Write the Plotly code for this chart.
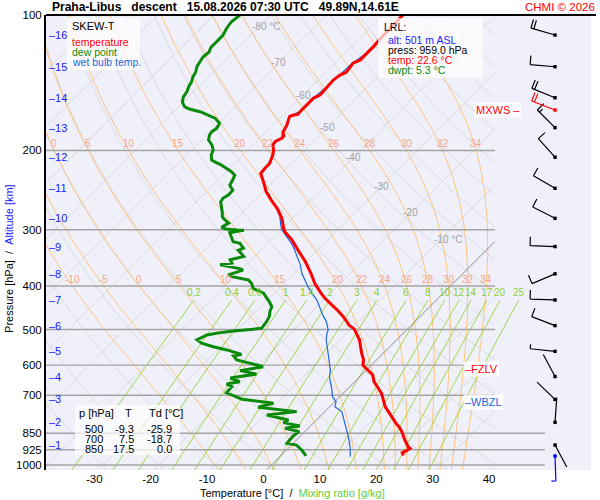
import numpy as np
import plotly.graph_objects as go

# ---------------- sounding values ----------------
temp_p = [952, 939, 929, 918, 911, 880, 850, 829, 808, 781, 761, 742, 717, 693, 670, 653, 631, 615, 600,
          584, 565, 527, 499, 488, 484, 476, 468, 452, 426, 415, 395, 375, 353, 333, 316, 303, 298, 283,
          269, 258, 247, 235, 225, 219, 214, 205, 200, 194.5, 191, 188, 186, 182, 179, 176, 171, 168, 167,
          166, 164, 158.5, 153, 150.6, 145, 139.5, 136, 134, 131, 128, 126, 122, 117, 114, 109, 103.5, 100]
temp_t = [21.7, 21.0, 21.4, 21.6, 21.0, 19.2, 17.6, 16.3, 14.7, 12.8, 11.3, 9.8, 8.3, 6.8, 4.9, 3.4, 2.0, 0.3, -1.5,
          -2.3, -3.8, -6.6, -9.4, -11.2, -11.6, -12.6, -13.6, -15.9, -20.1, -21.7, -24.5, -27.0, -30.1, -33.4, -36.3, -39.0, -39.8, -41.9,
          -44.5, -47.0, -49.4, -51.6, -53.6, -53.8, -53.8, -54.7, -55.4, -56.5, -56.7, -56.1, -56.1, -57.0, -57.3, -57.5, -58.2, -58.6, -58.2,
          -57.5, -57.6, -57.6, -57.6, -57.0, -57.2, -57.3, -57.0, -56.4, -56.6, -56.8, -56.1, -56.1, -56.1, -56.3, -56.4, -56.4, -56.5]

dewp_p = [954, 926, 903, 895, 862, 843, 829, 819, 805, 794, 774, 761, 744, 729, 714, 691, 670, 661, 653, 641,
          628, 617, 610, 605, 600, 584, 572, 568, 555, 546, 536, 527, 514, 508, 504, 497, 480, 468, 456, 445,
          434, 415, 405, 395, 388, 382, 378, 369, 366, 363, 359, 356, 350, 344, 333, 330, 321.6, 319, 312, 304.6,
          302.5, 300.9, 300.4, 298.9, 296.4, 290, 285.5, 281, 274, 260, 255.5, 251, 245, 239, 233, 227, 223, 219,
          215, 212, 210, 205, 199.5, 194.5, 189.6, 184.8, 181.7, 178.6, 174, 169.6, 167.6, 164, 162, 160, 156,
          152, 148, 144, 141, 137, 134, 130, 127, 124, 121, 118, 114, 111, 107, 103.5, 100]
dewp_t = [4.5, 2.7, 0.9, -1.1, -1.3, -1.0, -4.1, -1.9, -5.4, -5.0, -9.7, -5.0, -12.6, -10.6, -16.9, -20.8, -20.9, -22.3, -20.4, -22.7,
          -18.8, -22.3, -20.4, -18.9, -20.1, -24.8, -26.1, -24.9, -28.3, -31.3, -34.0, -35.4, -34.5, -32.6, -30.5, -26.0, -26.3, -26.7, -27.5, -28.0,
          -29.3, -31.9, -34.6, -35.7, -36.9, -40.2, -41.4, -39.6, -40.5, -42.5, -44.6, -42.8, -43.7, -41.9, -44.0, -43.4, -44.9, -46.4, -47.4, -48.6,
          -47.5, -46.5, -47.8, -49.9, -51.0, -50.5, -51.7, -52.7, -53.6, -55.7, -55.9, -55.5, -55.6, -57.0, -57.4, -57.9, -59.1, -60.6,
          -62.3, -63.8, -64.7, -65.6, -66.2, -67.3, -68.8, -69.5, -69.7, -69.4, -69.8, -71.5, -72.8, -75.3, -77.5, -78.9, -80.2,
          -80.9, -81.2, -81.8, -82.1, -82.8, -83.1, -83.9, -84.2, -84.5, -84.3, -84.8, -84.8, -84.8, -85.4, -85.7, -85.4]

wetb_p = [958, 911, 865, 836, 808, 781, 761, 742, 723, 705, 681, 636, 615, 589, 565, 527, 510, 501, 480, 468,
          452, 430, 415, 402, 388, 375, 359, 344, 333, 322, 308, 300, 293, 281, 271, 262, 249, 247, 235, 225,
          219, 214, 205, 200, 194.5, 188, 182, 176, 168, 164, 153, 145, 136, 128, 122, 114, 103.5, 100]
wetb_t = [12.5, 10.7, 8.6, 7.1, 5.6, 4.2, 3.0, 0.9, 0.2, -1.3, -2.6, -5.4, -6.4, -8.1, -9.7, -12.5, -13.5, -13.9, -15.7, -17.1,
          -18.8, -21.2, -23.3, -25.1, -26.9, -28.6, -30.4, -32.4, -34.0, -35.7, -38.4, -39.9, -40.9, -42.5, -44.2, -46.1, -48.7, -49.5, -51.7, -53.7,
          -53.9, -53.9, -54.8, -55.5, -56.6, -56.2, -57.1, -57.6, -58.7, -57.7, -57.7, -57.3, -57.1, -56.9, -56.2, -56.4, -56.5, -56.6]

# altitude marks [km] and their pressure
alt_km = list(range(1, 17))
alt_p = [902.8, 804, 715, 636, 559, 490, 429.8, 376, 327, 283, 242.7, 207, 178, 152.7, 130.3, 110.8]

# wind at each km level
wind_dir = [152, 4, 314, 332, 276, 291, 272, 247, 272, 297, 300, 318, 315, 292, 275, 286]
wind_spd = [2, 2, 2, 2, 5, 10, 10, 10, 10, 10, 10, 10, 15, 20, 10, 20]
mxws_p, mxws_dir, mxws_spd = 162.6, 291, 20
sfc_p, sfc_dir, sfc_spd = 955.0, 178, 5
fzlv_p = 613.0
wbzl_p = 723.0

# reference lines
press_levels = [1000, 925, 850, 700, 600, 500, 400, 300, 200]
press_ticks = [100, 200, 300, 400, 500, 600, 700, 850, 925, 1000]
temp_ticks = [-30, -20, -10, 0, 10, 20, 30, 40]
isotherms = list(range(-120, 50, 10))
dry_theta = list(range(-40, 190, 10))
moist_thw = [-10, -5, 0, 5, 10, 15, 20, 22, 24, 26, 28, 30, 32, 34]
moist_lbl_200 = [0, 5, 10, 15, 20, 22, 24, 26, 28, 30, 32, 34]
mix_ratio = [0.2, 0.4, 0.6, 1, 1.4, 2, 3, 4, 6, 8, 10, 12, 14, 17, 20, 25]
iso_lbl_t = [-80, -70, -60, -50, -40, -30, -20, -10]
iso_lbl_p = [106.3, 127.8, 150.6, 177.4, 206.8, 239.9, 275.4, 316.2]

table_p = [500, 700, 850]
table_t = [-9.3, 7.5, 17.5]
table_td = [-25.9, -18.7, 0.0]

lrl_alt, lrl_press, lrl_temp, lrl_dwpt = 501, 959.0, 22.6, 5.3

# ---------------- diagram geometry ----------------
SKEW = 79.8      # deg C per decade of pressure
P_REF = 1041.8
P_TOP, P_BOT = 100.0, 1025.9
X_RANGE = [-38.56, 58.07]
X_CLIP = 41.05
X_CLIP_LOW = 49.9
BARB_X = 0.934

RD, CP, LV, EPS = 287.04749, 1004.6662, 2.50084e6, 0.621957

FONT = "Liberation Sans, Arial, sans-serif"


def skew_x(t, p):
    return np.asarray(t, dtype=float) + SKEW * np.log10(P_REF / np.asarray(p, dtype=float))


def clipped(xs, ps, xmax):
    ly = np.log10(ps)
    ox, oy = [], []
    prev_in = None
    for i in range(len(xs)):
        inside = xs[i] <= xmax
        if i > 0 and inside != prev_in:
            f = (xmax - xs[i - 1]) / (xs[i] - xs[i - 1])
            ox.append(xmax)
            oy.append(10 ** (ly[i - 1] + f * (ly[i] - ly[i - 1])))
            if not inside:
                ox.append(None)
                oy.append(None)
        if inside:
            ox.append(float(xs[i]))
            oy.append(float(ps[i]))
        prev_in = inside
    ox.append(None)
    oy.append(None)
    return ox, oy


def lapse(t, p):
    es = 6.112 * np.exp(17.67 * (t - 273.15) / (t - 29.65))
    rs = EPS * es / (p - es)
    return (RD * t + LV * rs) / (CP + LV * LV * rs * EPS / (RD * t * t)) / p


def moist_profile(thw, plev):
    t = thw + 273.15
    out = [t]
    for p0, p1 in zip(plev[:-1], plev[1:]):
        h = p1 - p0
        k1 = lapse(t, p0)
        k2 = lapse(t + h * k1 / 2, p0 + h / 2)
        k3 = lapse(t + h * k2 / 2, p0 + h / 2)
        k4 = lapse(t + h * k3, p1)
        t = t + h * (k1 + 2 * k2 + 2 * k3 + k4) / 6
        out.append(t)
    return np.array(out) - 273.15


def moist_line(thw):
    p_up = np.geomspace(1000, P_TOP, 160)
    p_dn = np.geomspace(1000, P_BOT, 4)
    t_up = moist_profile(thw, p_up)
    t_dn = moist_profile(thw, p_dn)
    p = np.concatenate([p_dn[::-1], p_up[1:]])
    t = np.concatenate([t_dn[::-1], t_up[1:]])
    return t, p


def mix_td(w, p):
    e = w * p / (622.0 + w)
    ln = np.log(e / 6.112)
    return 243.5 * ln / (17.67 - ln)


fig = go.Figure()


def add_lines(xs, ys, color, width):
    fig.add_trace(go.Scatter(x=xs, y=ys, mode="lines", line=dict(color=color, width=width),
                             hoverinfo="skip", showlegend=False))


# dry adiabats + isotherms (light grey)
gx, gy = [], []
p_full = np.geomspace(P_BOT, P_TOP, 90)
for th in dry_theta:
    t = (th + 273.15) * (p_full / 1000.0) ** 0.2857 - 273.15
    a, b = clipped(skew_x(t, p_full), p_full, X_CLIP)
    gx += a
    gy += b
for ti in isotherms:
    if ti == 0:
        continue
    a, b = clipped(skew_x(np.full_like(p_full, ti), p_full), p_full, X_CLIP)
    gx += a
    gy += b
add_lines(gx, gy, "#d4d4d8", 0.8)

# moist adiabats (orange)
mx, my = [], []
for thw in moist_thw:
    t, p = moist_line(thw)
    a, b = clipped(skew_x(t, p), p, X_CLIP)
    mx += a
    my += b
add_lines(mx, my, "#ffc070", 0.9)

# mixing ratio lines (green)
wx, wy = [], []
p_mix = np.geomspace(P_BOT, 430, 30)
for w in mix_ratio:
    wx += list(skew_x(mix_td(w, p_mix), p_mix)) + [None]
    wy += list(p_mix) + [None]
add_lines(wx, wy, "#99d435", 0.9)

# 0 deg isotherm
a, b = clipped(skew_x(np.zeros_like(p_full), p_full), p_full, X_CLIP)
add_lines(a, b, "#707070", 0.8)

# pressure levels
hx, hy = [], []
for pl in press_levels:
    right = X_CLIP_LOW if pl >= 850 else X_CLIP
    hx += [X_RANGE[0], right, None]
    hy += [pl, pl, None]
add_lines(hx, hy, "#a4a4a4", 1.4)

# sounding curves
fig.add_trace(go.Scatter(x=skew_x(wetb_t, wetb_p), y=wetb_p, mode="lines",
                         line=dict(color="#2266e0", width=1.2), hoverinfo="skip", showlegend=False))
fig.add_trace(go.Scatter(x=skew_x(dewp_t, dewp_p), y=dewp_p, mode="lines",
                         line=dict(color="#0a8a0a", width=3), hoverinfo="skip", showlegend=False))
fig.add_trace(go.Scatter(x=skew_x(temp_t, temp_p), y=temp_p, mode="lines",
                         line=dict(color="#ff0000", width=3), hoverinfo="skip", showlegend=False))

annotations = []
shapes = []


def txt(x, y, text, color="black", size=10, xanchor="left", yanchor="middle", xref="paper", yref="paper", **kw):
    annotations.append(dict(x=x, y=y, xref=xref, yref=yref, text=text, showarrow=False,
                            xanchor=xanchor, yanchor=yanchor,
                            font=dict(family=FONT, size=size, color=color), **kw))


# moist adiabat labels
for thw in moist_thw:
    t, p = moist_line(thw)
    for lev, lst, xmin in ((400.0, moist_thw, -35.5), (200.0, moist_lbl_200, -40.0)):
        if thw not in lst:
            continue
        tl = np.interp(np.log10(lev), np.log10(p[::-1]), t[::-1])
        xl = max(float(skew_x(tl, lev)), xmin)
        txt(xl, np.log10(lev), str(thw), color="#f6a488", xanchor="center", yanchor="bottom",
            xref="x", yref="y", yshift=-1)

# mixing ratio labels
for w in mix_ratio:
    xl = float(skew_x(mix_td(w, 430.0), 430.0))
    txt(xl, np.log10(430.0), "%g" % w, color="#8fcf33", xanchor="center", yanchor="bottom",
        xref="x", yref="y", yshift=0)

# isotherm labels
for ti, pi in zip(iso_lbl_t, iso_lbl_p):
    xl = float(skew_x(ti, pi))
    if ti in (-80, -10):
        txt(xl, np.log10(pi), "%d °C" % ti, color="#a0a0a0", xanchor="left", xref="x", yref="y", xshift=-8)
    else:
        txt(xl, np.log10(pi), "%d" % ti, color="#a0a0a0", xanchor="center", xref="x", yref="y")

# altitude marks
for km, pk in zip(alt_km, alt_p):
    txt(0.002, np.log10(pk), "–%d" % km, color="#1a1aff", size=11, yref="y")

# level labels
txt(0.765, np.log10(fzlv_p), "–FZLV", color="#ff0000", size=11, yref="y",
    bgcolor="rgba(255,255,255,0.85)")
txt(0.765, np.log10(wbzl_p), "–WBZL", color="#2266e0", size=11, yref="y",
    bgcolor="rgba(255,255,255,0.85)")
txt(0.874, np.log10(mxws_p), "MXWS –", color="#ff0000", size=11, xanchor="right", yref="y",
    bgcolor="rgba(255,255,255,0.85)")

# boxes (semi transparent)
for x0, x1, y0, y1 in ((0.0385, 0.1725, 0.879, 0.9934), (0.6092, 0.8018, 0.8615, 0.9934),
                       (0.0532, 0.2459, 0.033, 0.1429)):
    shapes.append(dict(type="rect", xref="paper", yref="paper", x0=x0, x1=x1, y0=y0, y1=y1,
                       fillcolor="rgba(255,255,255,0.7)", line=dict(width=0), layer="above"))

# legend
txt(0.044, 0.9758, "SKEW-T", size=11)
txt(0.044, 0.9407, "temperature", color="#ff0000", size=10.5)
txt(0.044, 0.9187, "dew point", color="#0a8a0a", size=10.5)
txt(0.044, 0.8967, "wet bulb temp.", color="#2266e0", size=10.5)

# LRL box
txt(0.6165, 0.9736, "LRL:", size=10.5)
txt(0.6239, 0.9451, "alt: %d m ASL" % lrl_alt, color="#1a1aff", size=10.5)
txt(0.6239, 0.9231, "press: %.1f hPa" % lrl_press, size=10.5)
txt(0.6239, 0.9011, "temp: %.1f °C" % lrl_temp, color="#ff0000", size=10.5)
txt(0.6239, 0.8791, "dwpt: %.1f °C" % lrl_dwpt, color="#0a8a0a", size=10.5)

# table
txt(0.0569, 0.1253, "p [hPa]", size=11)
txt(0.1505, 0.1253, "T", size=11, xanchor="center")
txt(0.1853, 0.1253, "Td [°C]", size=11)
for i, (pp, tt, dd) in enumerate(zip(table_p, table_t, table_td)):
    yy = 0.0901 - i * 0.022
    txt(0.0872, yy, "%d" % pp, size=11, xanchor="center")
    txt(0.1651, yy, "%.1f" % tt, size=11, xanchor="right")
    txt(0.2349, yy, "%.1f" % dd, size=11, xanchor="right")

# title, credits, axis titles
sp = "\u00a0" * 3
txt(0.0073, 1.0176, "<b>Praha-Libus%sdescent%s15.08.2026 07:30 UTC%s49.89N,14.61E</b>" % (sp, sp, sp), size=12)
txt(1.011, 1.0176, "CHMI © 2026", color="#ff0000", size=11.5, xanchor="right")
txt(0.4514, -0.0505, "Temperature [°C]\u00a0\u00a0/\u00a0\u00a0<span style='color:#66cc33'>Mixing ratio [g/kg]</span>",
    size=11, xanchor="center")
txt(-0.068, 0.466, "Pressure [hPa]\u00a0\u00a0/\u00a0\u00a0<span style='color:#1a1aff'>Altitude [km]</span>",
    size=11, xanchor="center", textangle=-90)

# top border
shapes.append(dict(type="line", xref="paper", yref="paper", x0=0, x1=1.0092, y0=1, y1=1,
                   line=dict(color="black", width=2), layer="above"))


# wind barbs
def barb_path(direction, speed, L=25.0, fl=9.0, gap=3.0):
    th = np.radians(direction)
    ux, uy = np.sin(th), np.cos(th)
    qx, qy = uy, -ux
    tx, ty = L * ux, L * uy
    parts = ["M 0 0 L %.2f %.2f" % (tx, ty)]
    n_full = int(speed // 10)
    n_half = int((speed % 10) // 5)
    pos = 0.0
    for k in range(n_full + n_half):
        ln = fl if k < n_full else fl / 2
        sx, sy = tx - pos * ux, ty - pos * uy
        parts.append("M %.2f %.2f L %.2f %.2f" % (sx, sy, sx + ln * qx, sy + ln * qy))
        pos += gap
    return " ".join(parts)


def y_frac(p):
    return (np.log10(P_BOT) - np.log10(p)) / (np.log10(P_BOT) - np.log10(P_TOP))


barbs = [(p, d, s, "black") for p, d, s in zip(alt_p, wind_dir, wind_spd)]
barbs.append((mxws_p, mxws_dir, mxws_spd, "#ff0000"))
barbs.append((sfc_p, sfc_dir, sfc_spd, "#0000ff"))
for p, d, s, c in barbs:
    yf = float(y_frac(p))
    shapes.append(dict(type="path", xref="paper", yref="y domain", xsizemode="pixel", ysizemode="pixel",
                       xanchor=BARB_X, yanchor=yf, path=barb_path(d, s),
                       line=dict(color=c, width=1.2), layer="above"))
    shapes.append(dict(type="rect", xref="paper", yref="y domain", xsizemode="pixel", ysizemode="pixel",
                       xanchor=BARB_X, yanchor=yf, x0=-1.7, x1=1.7, y0=-1.7, y1=1.7,
                       fillcolor=c, line=dict(width=0), layer="above"))

fig.update_layout(
    width=600, height=500,
    margin=dict(l=46, r=9, t=15, b=30),
    paper_bgcolor="white", plot_bgcolor="#f0f0fa",
    showlegend=False, hovermode=False,
    font=dict(family=FONT, size=11, color="black"),
    annotations=annotations, shapes=shapes,
    xaxis=dict(range=X_RANGE, tickvals=temp_ticks, ticktext=[str(v) for v in temp_ticks],
               showgrid=False, zeroline=False, showline=False, ticks="",
               tickfont=dict(family=FONT, size=11.5, color="black")),
    yaxis=dict(type="log", range=[np.log10(P_BOT), np.log10(P_TOP)], tickvals=press_ticks,
               ticktext=[str(v) for v in press_ticks], showgrid=False, zeroline=False,
               showline=True, linecolor="black", linewidth=2, ticks="",
               tickfont=dict(family=FONT, size=11.5, color="black")),
)

# the page body has a default 8px margin; drop it so the figure sits at the window origin
fig.write_html("out.html", config={"displayModeBar": False},
               post_script="document.body.style.margin='0px';")
